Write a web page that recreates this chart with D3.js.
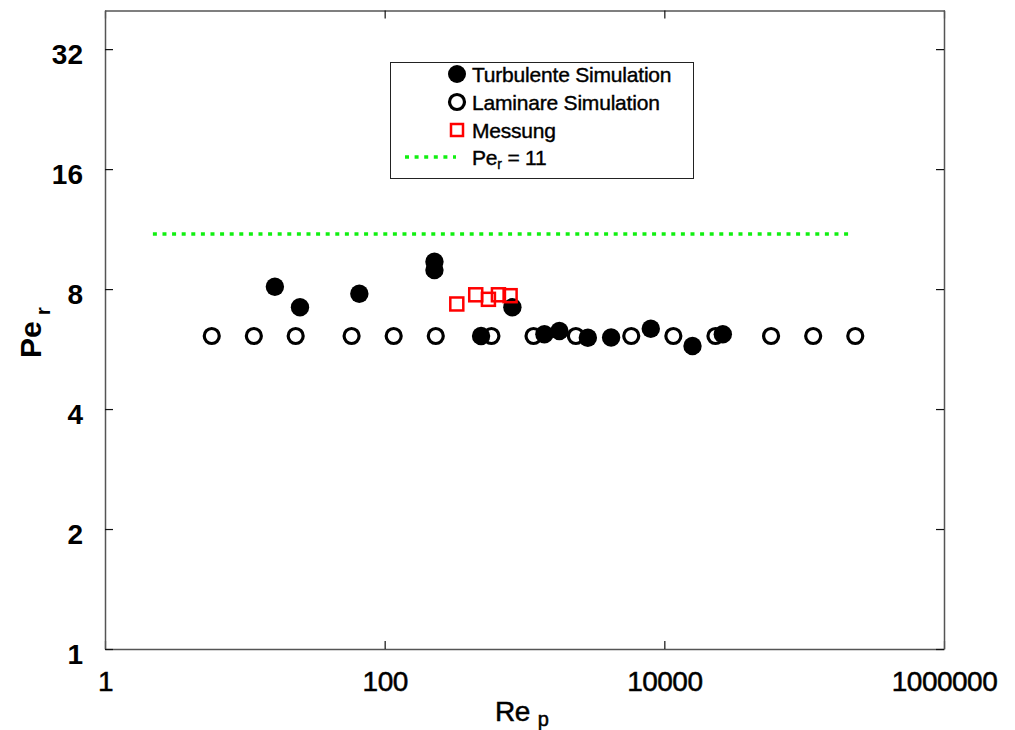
<!DOCTYPE html>
<html><head><meta charset="utf-8">
<script src="https://cdn.jsdelivr.net/npm/d3@7"></script>
<style>body{margin:0;background:#fff}svg{display:block}text{font-family:"Liberation Sans",Arial,sans-serif}</style>
</head><body><svg id="c" width="1015" height="730"></svg>
<script>
// Data
const turbRe = [16.4, 24.8, 65.9, 227, 227, 489, 819, 1388, 1777, 2838, 4162, 8000, 15900, 26200];
const turbPe = [8.11, 7.2, 7.79, 9.37, 8.93, 6.1, 7.2, 6.16, 6.28, 6.04, 6.05, 6.36, 5.76, 6.16];
const lamRe = [5.8, 11.6, 23.1, 58, 116, 232, 580, 1160, 2330, 5800, 11600, 23200, 58000, 116000, 232000];
const lamPe = [6.1, 6.1, 6.1, 6.1, 6.1, 6.1, 6.1, 6.1, 6.1, 6.1, 6.1, 6.1, 6.1, 6.1, 6.1];
const measRe = [328, 448, 552, 651, 789];
const measPe = [7.34, 7.74, 7.54, 7.74, 7.70];
const lineRe = [2.2, 222000];
const linePe = [11, 11];
const xTicks = [1, 100, 10000, 1000000];
const yTicks = [1, 2, 4, 8, 16, 32];
const legendLabels = ["Turbulente Simulation", "Laminare Simulation", "Messung"];

const svg = d3.select("#c");
const L = 105, R = 944, T = 10.5, B = 649;
const x = d3.scaleLog().domain([1, 1e6]).range([L, R]);
const y = d3.scaleLog().base(2).domain([1, 40]).range([B, T]);

// axes
const axCol = "#555";
const gB = svg.append("g").attr("transform", `translate(0,${B})`)
  .call(d3.axisBottom(x).tickValues(xTicks).tickFormat(d3.format("d")).tickSizeInner(-8).tickSizeOuter(0).tickPadding(22));
const gT = svg.append("g").attr("transform", `translate(0,${T})`)
  .call(d3.axisTop(x).tickValues(xTicks).tickFormat("").tickSizeInner(-8).tickSizeOuter(0));
const gL = svg.append("g").attr("transform", `translate(${L},0)`)
  .call(d3.axisLeft(y).tickValues(yTicks).tickFormat(d3.format("d")).tickSizeInner(-8).tickSizeOuter(0).tickPadding(22));
const gR = svg.append("g").attr("transform", `translate(${R},0)`)
  .call(d3.axisRight(y).tickValues(yTicks).tickFormat("").tickSizeInner(-8).tickSizeOuter(0));
[gB, gT, gL, gR].forEach(g => {
  g.select(".domain").attr("stroke", axCol).attr("stroke-width", 1.5);
  g.selectAll(".tick line").attr("stroke", "#111").attr("stroke-width", 1.2);
});
gB.selectAll(".tick text").attr("font-size", 28).attr("fill", "#000").attr("stroke", "#000").attr("stroke-width", 0.5).attr("dy", "0.71em").attr("letter-spacing", -0.5);
gL.selectAll(".tick text").attr("font-size", 28).attr("font-weight", "bold").attr("fill", "#000").attr("dy", "0.5em");

// axis titles
const xt = svg.append("text").attr("x", 495).attr("y", 721).attr("font-size", 28).attr("stroke", "#000").attr("stroke-width", 0.5).attr("letter-spacing", -0.5);
xt.append("tspan").text("Re");
xt.append("tspan").attr("dx", 8).attr("dy", 5).attr("font-size", 20).text("p");
const yt = svg.append("text").attr("transform", "translate(41,358) rotate(-90)").attr("font-size", 30).attr("font-weight", "bold");
yt.append("tspan").text("Pe");
yt.append("tspan").attr("dx", 6).attr("dy", 9).attr("font-size", 21).text("r");

// green line
const lineData = lineRe.map((r, i) => [r, linePe[i]]);
svg.append("path").datum(lineData)
  .attr("d", d3.line().x(d => x(d[0])).y(d => y(d[1])))
  .attr("stroke", "#11f011").attr("stroke-width", 3.5).attr("stroke-dasharray", "4 5.6").attr("fill", "none");

// laminar open circles
svg.append("g").selectAll("circle").data(lamRe.map((r, i) => [r, lamPe[i]])).join("circle")
  .attr("cx", d => x(d[0])).attr("cy", d => y(d[1])).attr("r", 7.5)
  .attr("fill", "#fff").attr("stroke", "#000").attr("stroke-width", 3.2);

// turbulent filled circles
svg.append("g").selectAll("circle").data(turbRe.map((r, i) => [r, turbPe[i]])).join("circle")
  .attr("cx", d => x(d[0])).attr("cy", d => y(d[1])).attr("r", 9.2)
  .attr("fill", "#000");

// measurement squares
svg.append("g").selectAll("rect").data(measRe.map((r, i) => [r, measPe[i]])).join("rect")
  .attr("x", d => x(d[0]) - 6.5).attr("y", d => y(d[1]) - 6.5).attr("width", 13).attr("height", 13)
  .attr("fill", "none").attr("stroke", "#ff0000").attr("stroke-width", 2.5);

// legend
const lg = svg.append("g");
lg.append("rect").attr("x", 390.5).attr("y", 62.5).attr("width", 303).attr("height", 116)
  .attr("fill", "#fff").attr("stroke", "#222").attr("stroke-width", 1);
const rows = [74, 102, 130, 157];
lg.append("circle").attr("cx", 457).attr("cy", rows[0]).attr("r", 9).attr("fill", "#000");
lg.append("circle").attr("cx", 457).attr("cy", rows[1]).attr("r", 7.5).attr("fill", "#fff").attr("stroke", "#000").attr("stroke-width", 3.2);
lg.append("rect").attr("x", 451).attr("y", rows[2] - 6).attr("width", 12).attr("height", 12).attr("fill", "none").attr("stroke", "#ff0000").attr("stroke-width", 2.5);
lg.append("line").attr("x1", 405).attr("x2", 456).attr("y1", rows[3]).attr("y2", rows[3])
  .attr("stroke", "#11f011").attr("stroke-width", 3.5).attr("stroke-dasharray", "4 5.6");
legendLabels.forEach((t, i) => {
  lg.append("text").attr("x", 472).attr("y", rows[i]).attr("dy", "0.36em").attr("font-size", 21)
    .attr("stroke", "#000").attr("stroke-width", 0.4).attr("letter-spacing", -0.2).text(t);
});
const lt = lg.append("text").attr("x", 472).attr("y", rows[3]).attr("dy", "0.36em").attr("font-size", 21)
  .attr("stroke", "#000").attr("stroke-width", 0.4).attr("letter-spacing", -0.2);
lt.append("tspan").text("Pe");
lt.append("tspan").attr("dy", 4).attr("font-size", 14).text("r");
lt.append("tspan").attr("dy", -4).attr("font-size", 21).text(" = 11");
</script></body></html>
